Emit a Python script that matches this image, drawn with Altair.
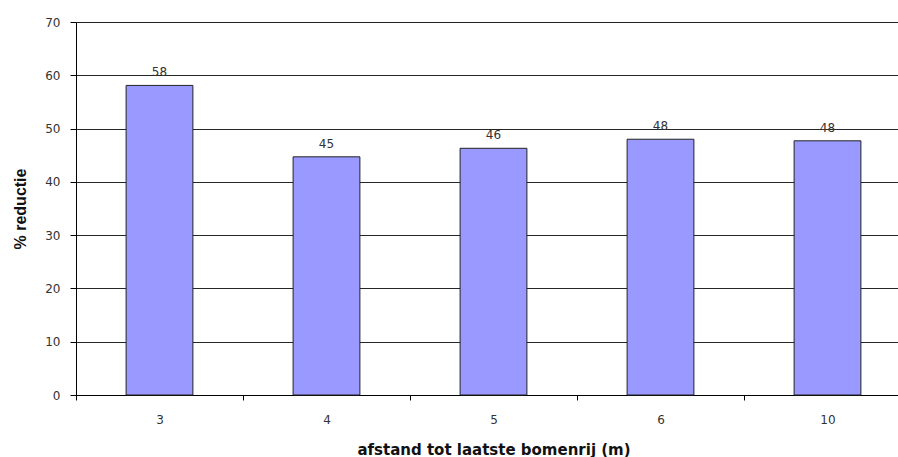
import altair as alt
import pandas as pd

categories = ["3", "4", "5", "6", "10"]
values = [58.1, 44.7, 46.3, 48.0, 47.7]
labels = ["58", "45", "46", "48", "48"]

df = pd.DataFrame({"afstand": categories, "reductie": values, "label": labels})

x = alt.X(
    "afstand:N",
    sort=categories,
    scale=alt.Scale(range=[0, 835], paddingInner=0, paddingOuter=0),
    axis=alt.Axis(
        title="afstand tot laatste bomenrij (m)",
        labelAngle=0,
        tickBand="extent",
        tickSize=5,
        tickColor="#000",
        domainColor="#000",
        labelPadding=14,
        labelFont="DejaVu Sans",
        labelFontSize=12,
        labelColor="#333",
        titleFont="DejaVu Sans",
        titleFontSize=15,
        titleFontWeight="bold",
        titleColor="#111",
        titleX=417.5,
        titleY=59,
        titleBaseline="alphabetic",
        titleAnchor="middle",
    ),
)

y = alt.Y(
    "reductie:Q",
    scale=alt.Scale(domain=[0, 70], nice=False),
    axis=alt.Axis(
        title="% reductie",
        values=[0, 10, 20, 30, 40, 50, 60, 70],
        grid=True,
        gridColor="#000",
        gridOpacity=0.85,
        tickSize=6,
        tickColor="#000",
        domainColor="#000",
        labelPadding=10,
        labelFont="DejaVu Sans",
        labelFontSize=12,
        labelColor="#333",
        titleFont="Liberation Sans",
        titleFontSize=16,
        titleFontWeight="bold",
        titleColor="#111",
        titleX=-51,
        titleY=186.5,
        titleAngle=270,
        titleBaseline="alphabetic",
        titleAlign="center",
    ),
)

bars = alt.Chart(df).mark_bar(
    color="#9999FF", stroke="#222", strokeWidth=1, width=alt.RelativeBandSize(0.4)
).encode(x=x, y=y)

text = alt.Chart(df).mark_text(
    baseline="alphabetic", dy=-9, font="DejaVu Sans", fontSize=12, color="#333"
).encode(x=alt.X("afstand:N", sort=categories), y="reductie:Q", text="label:N")

chart = (
    alt.layer(bars, text)
    .properties(
        width=822,
        height=373,
        autosize=alt.AutoSizeParams(type="none"),
        padding={"left": 76, "top": 22, "right": 0, "bottom": 62},
    )
    .configure_view(stroke=None)
    .configure(background="white")
)

chart.save("out.html", embed_options={"renderer": "svg", "actions": False})
